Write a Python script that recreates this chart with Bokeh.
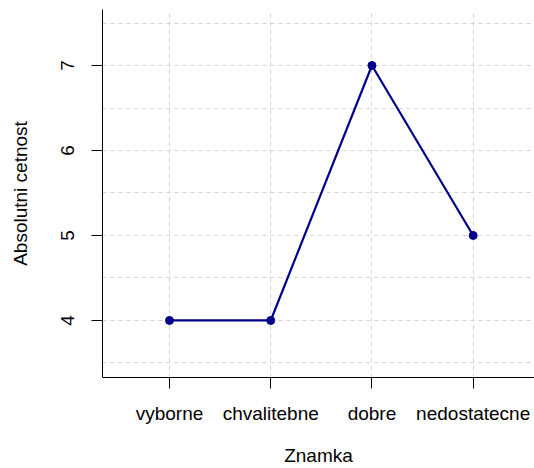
from bokeh.plotting import figure
from bokeh.models import Range1d, FixedTicker
from bokeh.embed import file_html
from bokeh.resources import INLINE

# Data
categories = ["vyborne", "chvalitebne", "dobre", "nedostatecne"]
counts = [4, 4, 7, 5]
y_ticks = [4, 5, 6, 7]
y_grid = [3.5, 4, 4.5, 5, 5.5, 6, 6.5, 7, 7.5]
x_title = "Znamka"
y_title = "Absolutni cetnost"

xs = list(range(1, len(categories) + 1))

FONT = "Liberation Sans"
FS = "19px"

p = figure(width=534, height=468, output_backend="svg", toolbar_location=None,
           x_range=Range1d(0.338, 4.606), y_range=Range1d(3.329, 7.659),
           min_border_left=102, min_border_right=0, min_border_top=9, min_border_bottom=91)
p.outline_line_color = None

# grid
p.xgrid.ticker = FixedTicker(ticks=xs)
p.ygrid.ticker = FixedTicker(ticks=y_grid)
for g in (p.xgrid, p.ygrid):
    g.grid_line_color = "#D3D3D3"
    g.grid_line_dash = "4 4"
    g.grid_line_width = 1

# axes
p.xaxis.ticker = FixedTicker(ticks=xs)
p.xaxis.major_label_overrides = {x: c for x, c in zip(xs, categories)}
p.yaxis.ticker = FixedTicker(ticks=y_ticks)
p.yaxis.major_label_orientation = "vertical"

for ax in (p.xaxis[0], p.yaxis[0]):
    ax.axis_line_color = "black"
    ax.axis_line_width = 1
    ax.major_tick_line_color = "black"
    ax.major_tick_out = 11
    ax.major_tick_in = 0
    ax.minor_tick_line_color = None
    ax.major_label_text_font = FONT
    ax.major_label_text_font_size = FS
    ax.major_label_text_color = "black"
    ax.axis_label_text_font = FONT
    ax.axis_label_text_font_size = FS
    ax.axis_label_text_font_style = "normal"
    ax.axis_label_text_color = "black"

p.xaxis.axis_label = x_title
p.yaxis.axis_label = y_title
p.xaxis.major_label_standoff = 14
p.xaxis.axis_label_standoff = 18
p.yaxis.major_label_standoff = 17
p.yaxis.axis_label_standoff = 28

p.line(xs, counts, line_color="#00008B", line_width=2.2)
p.scatter(xs, counts, size=8, fill_color="#00008B", line_color="#00008B")

open("out.html", "w").write(file_html(p, INLINE))
